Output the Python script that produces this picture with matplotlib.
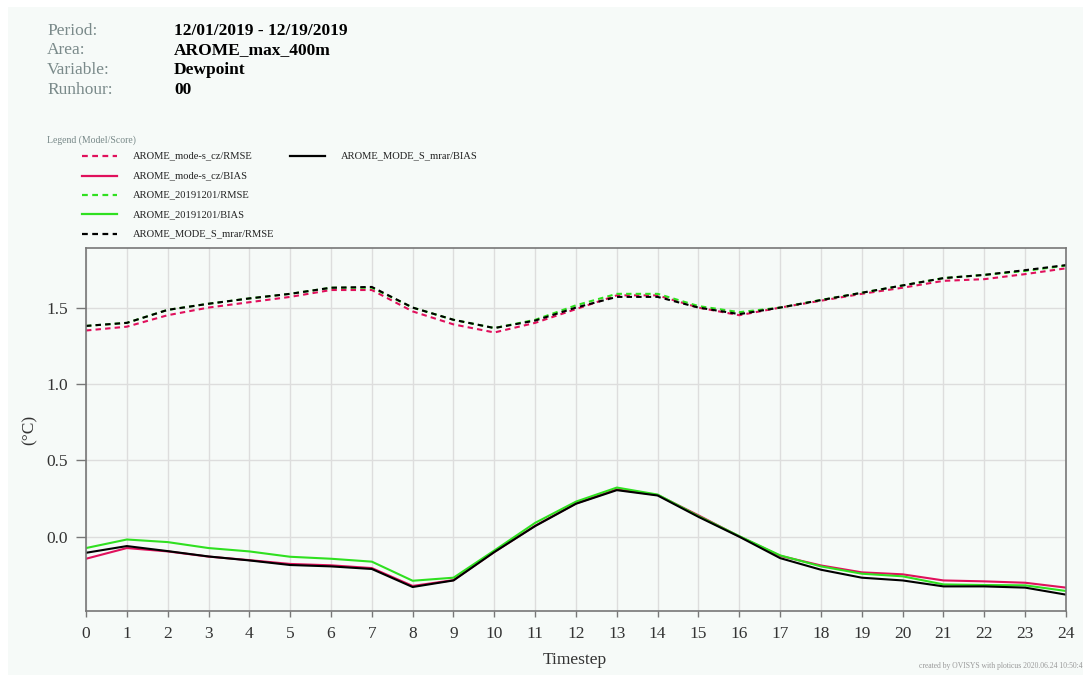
import matplotlib
matplotlib.use("Agg")
import matplotlib.pyplot as plt
from matplotlib.lines import Line2D
from matplotlib.patches import Rectangle
import numpy as np

plt.rcParams["font.family"] = ["Liberation Serif", "DejaVu Serif"]

# ---- data ----
timesteps = list(range(25))

cz_rmse = [1.35, 1.375, 1.45, 1.50, 1.535, 1.57, 1.615, 1.615, 1.475, 1.39, 1.337,
           1.40, 1.49, 1.58, 1.58, 1.50, 1.45, 1.50, 1.545, 1.59, 1.63, 1.675,
           1.686, 1.719, 1.757]
cz_bias = [-0.144, -0.074, -0.096, -0.13, -0.153, -0.178, -0.187, -0.205, -0.322,
           -0.284, -0.10, 0.072, 0.218, 0.31, 0.273, 0.14, 0.002, -0.125, -0.188,
           -0.233, -0.246, -0.286, -0.292, -0.301, -0.333]
d1201_rmse = [1.38, 1.40, 1.485, 1.525, 1.56, 1.59, 1.63, 1.63, 1.50, 1.42, 1.366,
              1.42, 1.515, 1.59, 1.59, 1.51, 1.47, 1.50, 1.55, 1.597, 1.645, 1.693,
              1.714, 1.74, 1.775]
d1201_bias = [-0.074, -0.018, -0.035, -0.074, -0.096, -0.131, -0.144, -0.163, -0.288,
              -0.268, -0.09, 0.091, 0.23, 0.322, 0.276, 0.135, 0.004, -0.122, -0.194,
              -0.242, -0.259, -0.312, -0.316, -0.318, -0.355]
mrar_rmse = [1.38, 1.40, 1.485, 1.525, 1.56, 1.59, 1.63, 1.635, 1.50, 1.42, 1.366,
             1.415, 1.50, 1.57, 1.57, 1.50, 1.457, 1.50, 1.549, 1.597, 1.645, 1.693,
             1.714, 1.745, 1.778]
mrar_bias = [-0.105, -0.061, -0.094, -0.129, -0.155, -0.185, -0.194, -0.211, -0.329,
             -0.286, -0.10, 0.07, 0.216, 0.305, 0.27, 0.13, 0.0, -0.14, -0.216,
             -0.268, -0.286, -0.325, -0.325, -0.333, -0.379]

series = [
    ("AROME_mode-s_cz/RMSE", cz_rmse, "#e0105c", "--"),
    ("AROME_mode-s_cz/BIAS", cz_bias, "#e0105c", "-"),
    ("AROME_20191201/RMSE", d1201_rmse, "#2fe020", "--"),
    ("AROME_20191201/BIAS", d1201_bias, "#2fe020", "-"),
    ("AROME_MODE_S_mrar/RMSE", mrar_rmse, "#000000", "--"),
    ("AROME_MODE_S_mrar/BIAS", mrar_bias, "#000000", "-"),
]

header_keys = ["Period:", "Area:", "Variable:", "Runhour:"]
header_vals = ["12/01/2019 - 12/19/2019", "AROME_max_400m", "Dewpoint", "00"]

W, H = 1083, 675
fig = plt.figure(figsize=(W / 100, H / 100), dpi=100)
fig.patch.set_facecolor("white")
bg = "#f6faf8"
fig.add_artist(Rectangle((8 / W, 0), 1 - 8 / W, 1 - 7 / H, transform=fig.transFigure,
                         facecolor=bg, edgecolor="none", zorder=-10))


def fx(px):
    return px / W


def fy(py):
    return 1 - py / H


# header block
for i, (k, v) in enumerate(zip(header_keys, header_vals)):
    y = fy(31 + i * 19.5)
    fig.text(fx(47), y, k, fontsize=12.5, color="#7a8a8a", va="center", ha="left")
    fig.text(fx(174), y, v, fontsize=12.5, color="black", fontweight="bold",
             va="center", ha="left")

# legend block
fig.text(fx(47), fy(140), "Legend (Model/Score)", fontsize=7, color="#778888",
         va="center", ha="left")
for i, (label, _, color, ls) in enumerate(series):
    col, row = (0, i) if i < 5 else (1, i - 5)
    x0 = 82 + col * 208
    y = fy(156 + row * 19.5)
    ln = Line2D([fx(x0), fx(x0 + 35)], [y, y], transform=fig.transFigure,
                color=color, lw=1.6, linestyle=ls)
    if ls == "--":
        ln.set_dashes((2.6, 2.0))
    fig.add_artist(ln)
    fig.text(fx(x0 + 51), y, label, fontsize=7.6, color="#222222",
             va="center", ha="left")

# main axes
ax = fig.add_axes([fx(86), 1 - 611 / H, (1066 - 86) / W, (611 - 248) / H])
ax.set_facecolor(bg)
for label, vals, color, ls in series:
    line, = ax.plot(timesteps, vals, color=color, lw=1.5, linestyle=ls)
    if ls == "--":
        line.set_dashes((2.6, 2.0))

ax.set_xlim(0, 24)
ax.set_ylim(-0.486, 1.89)
ax.set_xticks(timesteps)
ax.set_yticks([0.0, 0.5, 1.0, 1.5])
ax.set_yticklabels(["0.0", "0.5", "1.0", "1.5"])
ax.grid(True, color="#dddddd", lw=1.0)
ax.set_axisbelow(True)
for side in ["left", "bottom", "top", "right"]:
    ax.spines[side].set_color("#777777")
    ax.spines[side].set_linewidth(1.2)
ax.tick_params(axis="both", direction="out", width=1, color="#777777",
               labelsize=12.5, labelcolor="#333333")
ax.tick_params(axis="x", length=4, pad=7)
ax.tick_params(axis="y", length=7, pad=6)

fig.text(fx(30), fy(430), "(°C)", rotation=90, fontsize=12.5, color="#333333",
         va="center", ha="center")
fig.text(fx(575), fy(660), "Timestep", fontsize=12.5, color="#333333",
         va="center", ha="center")
fig.text(fx(1083), fy(666), "created by OVISYS with ploticus 2020.06.24 10:50:4",
         fontsize=5.5, color="#999999", va="center", ha="right")

fig.savefig("out.png", dpi=100, facecolor="white")
